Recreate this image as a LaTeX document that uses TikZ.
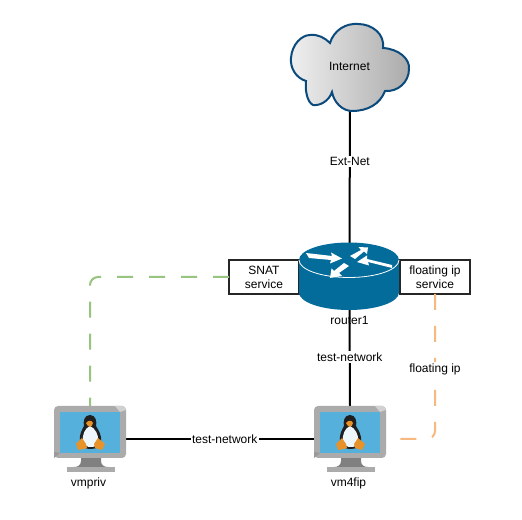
\documentclass[tikz,border=0pt]{standalone}
\usepackage{fontspec}
\setmainfont{Liberation Sans}
\definecolor{rtr}{HTML}{036C9B}
\definecolor{cloudline}{HTML}{0B4A7D}
\definecolor{lgreen}{HTML}{97C47E}
\definecolor{lorange}{HTML}{F7B97F}
\definecolor{scr}{HTML}{55B1DC}
\definecolor{bez}{HTML}{ABABAB}
\definecolor{peng}{HTML}{E8932A}
\tikzset{
  x=0.75pt,y=-0.75pt,
  lab/.style={font=\fontsize{9}{10.5}\selectfont,text=black,inner sep=1pt,align=center},
  onlink/.style={lab,fill=white},
  conn/.style={line width=1.5pt,black},
  dashgreen/.style={line width=1.5pt,lgreen,dash pattern=on 12pt off 12pt,rounded corners=6pt},
  dashorange/.style={line width=1.5pt,lorange,dash pattern=on 12pt off 12pt,rounded corners=6pt},
  svc/.style={lab,draw=black!85,fill=white,line width=1.1pt,minimum width=52.5pt,minimum height=25.5pt,inner sep=0pt,outer sep=0pt},
  iconbox/.style={inner sep=0pt,outer sep=0pt,draw=none,minimum width=54pt,minimum height=49.5pt},
  vm/.pic={
    % stand and base
    \fill[black!50] (-9,19) -- (11,19) -- (11,22) .. controls (11,26) and (14,28) .. (18,28) -- (-16,28) .. controls (-12,28) and (-9,26) .. (-9,22) -- cycle;
    \fill[bez] (-23,28) rectangle (25,33);
    % bezel
    \fill[bez,rounded corners=3pt] (-36,-33) rectangle (36,19);
    \fill[black!18] (25,-33) -- (33,-33) -- (36,-30) -- (36,-29) -- (30,-27) -- cycle;
    \fill[black!40] (-36,13) -- (-30,14) -- (-36,19) -- cycle;
    \fill[scr] (-30,-27) rectangle (30,14);
    % penguin
    \fill[black!88] (0,-24) .. controls (-6,-24) and (-7,-17) .. (-6,-13) .. controls (-8,-9) and (-11,-5) .. (-10,3) .. controls (-9,8) and (-4,10) .. (0,10) .. controls (6,10) and (11,8) .. (11,3) .. controls (12,-5) and (8,-9) .. (6,-13) .. controls (7,-17) and (6,-24) .. (0,-24) -- cycle;
    \fill[white!90!scr] (0,-13) .. controls (-5,-11) and (-8,-4) .. (-7,2) .. controls (-6,7) and (-2,8) .. (0,8) .. controls (5,8) and (8,7) .. (8,2) .. controls (9,-4) and (5,-11) .. (0,-13) -- cycle;
    \fill[peng] (-4,-16) .. controls (-2,-19) and (2,-19) .. (3,-16) .. controls (2,-11) and (-2,-11) .. (-4,-16) -- cycle;
    \fill[peng] (-8,-1) -- (-4,5) -- (-3,9) -- (-6,10) -- (-12,11) -- (-14,5) -- cycle;
    \fill[peng] (8,-1) -- (4,5) -- (5,9) -- (8,10) -- (12,11) -- (15,5) -- cycle;
  }
}
\begin{document}
\begin{tikzpicture}
\useasboundingbox (0,0) rectangle (522,520);
\fill[white] (0,0) rectangle (522,520);

% icon frames (invisible, named for the connectors)
\node[inner sep=0pt,outer sep=0pt,minimum width=88.5pt,minimum height=75pt] (internet) at (350,61) {};
\node[inner sep=0pt,outer sep=0pt,minimum width=75pt,minimum height=50.25pt] (router1) at (349.5,276.5) {};
\node[iconbox] (vmpriv) at (90,439) {};
\node[iconbox] (vm4fip) at (350,439) {};
\node[svc] (snat) at (264,277) {SNAT\\service};
\node[svc] (fip) at (435,277) {floating ip\\service};

% connectors
\draw[conn] (internet.south) -- node[onlink,pos=0.38] {Ext-Net} (router1.north);
\draw[conn] (router1.south) -- node[onlink,pos=0.49] {test-network} (vm4fip.north);
\draw[conn] (vmpriv.east) -- node[onlink,pos=0.525] {test-network} (vm4fip.west);
\draw[dashgreen] (snat.west) -| (vmpriv.north);
\draw[dashorange] (fip.south) |- (vm4fip.east);
\node[onlink] (fiplabel) at (435,369) {floating ip};

% cloud
\draw[line width=1.5pt,cloudline,left color=black!6,right color=black!33]
  (330,43) .. controls (334,30) and (346,23) .. (358,24)
  .. controls (372,24) and (385,34) .. (383,48)
  .. controls (399,49) and (410,59) .. (409,69)
  .. controls (409,82) and (398,92) .. (385,91)
  .. controls (380,104) and (368,111) .. (352,111)
  .. controls (343,111) and (334,103) .. (332,92)
  .. controls (329,101) and (320,106) .. (313,105)
  .. controls (307,102) and (305,90) .. (306,81)
  .. controls (296,78) and (290,68) .. (291,58)
  .. controls (292,44) and (302,35) .. (310,35)
  .. controls (318,34) and (325,38) .. (330,43) -- cycle;
\node[lab] (inettext) at (349.5,66) {Internet};

% router
\fill[rtr] (299,260) -- (299,292.5) arc[x radius=50,y radius=17.5,start angle=180,end angle=0] -- (399,260) -- cycle;
\fill[rtr] (349,260) ellipse[x radius=50,y radius=17.5];
\draw[white,line width=0.6pt] (299,260) arc[x radius=50,y radius=17.5,start angle=180,end angle=0];
\fill[white] (306,253) -- (332,256) -- (331,252.5) -- (342,258.5) -- (330,263.5) -- (331,260) -- (309,258) -- cycle;
\fill[white] (350,256) -- (361,250) -- (358.5,247) -- (368,247.5) -- (367,254) -- (364,251.5) -- (355,259) -- cycle;
\fill[white] (349,266) -- (339,273) -- (342,276) -- (330,278) -- (331.5,268.5) -- (334,271) -- (344,263) -- cycle;
\fill[white] (392,268) -- (368,262) -- (369,265.5) -- (357,262) -- (367,255.5) -- (367,259) -- (392,265) -- cycle;
\node[lab] (routertext) at (349.5,320) {router1};

% machines
\pic at (90,439) {vm};
\pic at (350,439) {vm};
\node[lab] (privtext) at (88.5,483) {vmpriv};
\node[lab] (fiptext) at (348.5,483) {vm4fip};
\end{tikzpicture}
\end{document}
